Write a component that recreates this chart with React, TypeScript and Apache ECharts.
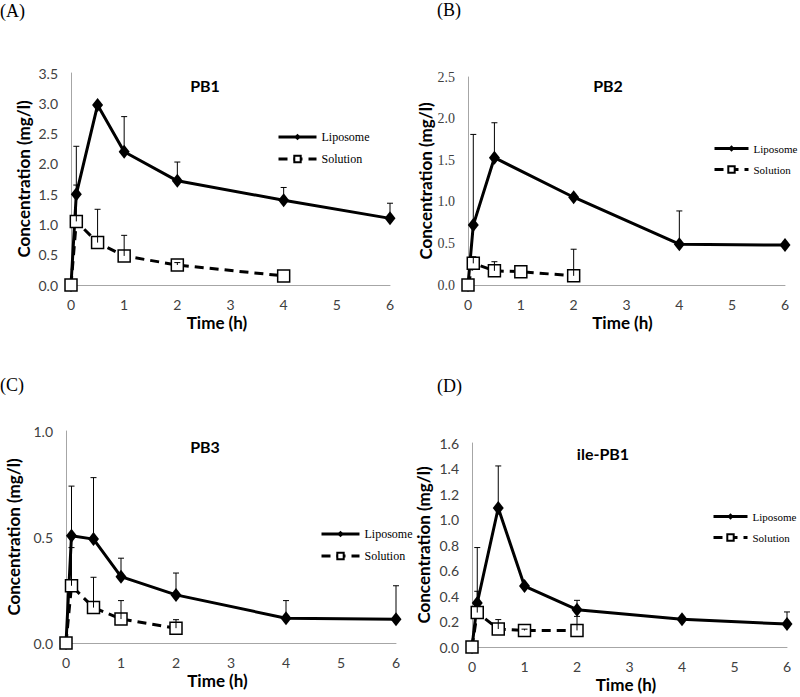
import React, { useEffect, useRef } from "react";
import * as echarts from "echarts";

// ---------- data ----------
const timeTicks = [0, 1, 2, 3, 4, 5, 6];

// Panel A: PB1
const lipoTimeA = [0, 0.1, 0.5, 1, 2, 4, 6];
const lipoA = [0, 1.5, 2.97, 2.2, 1.72, 1.4, 1.1];
const lipoSdA = [0, 0.79, 0, 0.58, 0.31, 0.21, 0.25];
const solTimeA = [0, 0.1, 0.5, 1, 2, 4];
const solA = [0, 1.05, 0.7, 0.48, 0.33, 0.15];
const solSdA = [0, 0.6, 0.55, 0.34, 0.04, 0];

// Panel B: PB2
const lipoTimeB = [0, 0.1, 0.5, 2, 4, 6];
const lipoB = [0, 0.72, 1.53, 1.055, 0.49, 0.48];
const lipoSdB = [0, 1.09, 0.42, 0, 0.4, 0];
const solTimeB = [0, 0.1, 0.5, 1, 2];
const solB = [0, 0.26, 0.17, 0.16, 0.11];
const solSdB = [0, 0.08, 0.11, 0, 0.32];

// Panel C: PB3
const lipoTimeC = [0, 0.1, 0.5, 1, 2, 4, 6];
const lipoC = [0, 0.506, 0.49, 0.313, 0.227, 0.117, 0.112];
const lipoSdC = [0, 0.234, 0.29, 0.087, 0.103, 0.083, 0.158];
const solTimeC = [0, 0.1, 0.5, 1, 2];
const solC = [0, 0.27, 0.167, 0.113, 0.07];
const solSdC = [0, 0.18, 0.143, 0.087, 0.04];

// Panel D: ile-PB1
const lipoTimeD = [0, 0.1, 0.5, 1, 2, 4, 6];
const lipoD = [0, 0.345, 1.09, 0.478, 0.293, 0.217, 0.18];
const lipoSdD = [0, 0.435, 0.33, 0, 0.073, 0, 0.095];
const solTimeD = [0, 0.1, 0.5, 1, 2];
const solD = [0, 0.27, 0.141, 0.13, 0.13];
const solSdD = [0, 0.167, 0.074, 0.01, 0.11];

const panelLabels = ["(A)", "(B)", "(C)", "(D)"];
const panelTitles = ["PB1", "PB2", "PB3", "ile-PB1"];
const yMaxes = [3.5, 2.5, 1.0, 1.6];
const yIntervals = [0.5, 0.5, 0.5, 0.2];
const seriesNames = ["Liposome", "Solution"];
const xTitle = "Time (h)";
const yTitle = "Concentration (mg/l)";

// ---------- layout (styles) ----------
const grids = [
  { left: 71, top: 73, width: 319, height: 212 },
  { left: 468, top: 77, width: 317, height: 208 },
  { left: 66, top: 431, width: 330, height: 212 },
  { left: 472, top: 443, width: 315, height: 204 },
];
const yNameGaps = [39, 32, 44, 40];
const xNamePads = [[0, 27, 0, 0], [0, 8, 0, 0], [0, 27, 0, 0], [0, 7, 0, 0]];
const yLabelFonts = ["Lato", "Liberation Serif", "Lato", "Lato"];
const legendPos = [
  { left: 277, top: 131, fontSize: 12, itemWidth: 38 },
  { left: 713, top: 143, fontSize: 11, itemWidth: 34 },
  { left: 320, top: 528, fontSize: 12, itemWidth: 38 },
  { left: 712, top: 511, fontSize: 11, itemWidth: 34 },
];
const titlePos = [
  [205, 85],
  [608, 85],
  [205, 446],
  [603, 453],
];
const labelPos = [
  [0, 11],
  [437, 10],
  [0, 385],
  [437, 386],
];

const panelData = [
  [lipoTimeA, lipoA, lipoSdA, solTimeA, solA, solSdA],
  [lipoTimeB, lipoB, lipoSdB, solTimeB, solB, solSdB],
  [lipoTimeC, lipoC, lipoSdC, solTimeC, solC, solSdC],
  [lipoTimeD, lipoD, lipoSdD, solTimeD, solD, solSdD],
];

function errorBarRender(params: any, api: any) {
  const x = api.value(0);
  const y = api.value(1);
  const top = api.value(2);
  const p0 = api.coord([x, y]);
  const p1 = api.coord([x, top]);
  return {
    type: "group",
    children: [
      {
        type: "line",
        shape: { x1: p0[0], y1: p0[1], x2: p1[0], y2: p1[1] },
        style: { stroke: "#000", lineWidth: 1 },
      },
      {
        type: "line",
        shape: { x1: p1[0] - 3, y1: p1[1], x2: p1[0] + 3, y2: p1[1] },
        style: { stroke: "#000", lineWidth: 1 },
      },
    ],
  };
}

function buildOption() {
  const xAxis: any[] = [];
  const yAxis: any[] = [];
  const series: any[] = [];
  const legend: any[] = [];
  const graphic: any[] = [];

  grids.forEach((g, i) => {
    xAxis.push({
      type: "value",
      gridIndex: i,
      min: 0,
      max: 6,
      interval: 1,
      splitLine: { show: false },
      axisTick: { show: false },
      axisLine: { show: true, onZero: false, lineStyle: { color: "#a6a6a6", width: 1 } },
      axisLabel: {
        margin: 12,
        color: "#404040",
        fontFamily: "Lato",
        fontSize: 14,
        formatter: (v: number) => (timeTicks.includes(v) ? String(v) : ""),
      },
      name: xTitle,
      nameLocation: "middle",
      nameGap: 29,
      nameTextStyle: {
        fontFamily: "Lato",
        fontWeight: "bold",
        fontSize: 17,
        color: "#000",
        padding: xNamePads[i],
      },
    });
    yAxis.push({
      type: "value",
      gridIndex: i,
      min: 0,
      max: yMaxes[i],
      interval: yIntervals[i],
      splitLine: { show: false },
      axisTick: { show: false },
      axisLine: { show: true, lineStyle: { color: "#a6a6a6", width: 1 } },
      axisLabel: {
        margin: 13,
        color: "#404040",
        fontFamily: yLabelFonts[i],
        fontSize: 14,
        formatter: (v: number) => v.toFixed(1),
      },
      name: yTitle,
      nameLocation: "middle",
      nameGap: yNameGaps[i],
      nameTextStyle: {
        fontFamily: "Lato",
        fontWeight: "bold",
        fontSize: 17,
        color: "#000",
      },
    });

    const [lt, lv, ls, st, sv, ss] = panelData[i];

    series.push({
      type: "line",
      name: seriesNames[0],
      xAxisIndex: i,
      yAxisIndex: i,
      data: lt.map((t: number, k: number) => [t, lv[k]]),
      symbol: "diamond",
      symbolSize: [11, 14],
      lineStyle: { color: "#000", width: 3 },
      itemStyle: { color: "#000" },
      z: 3,
    });
    series.push({
      type: "line",
      name: seriesNames[1],
      xAxisIndex: i,
      yAxisIndex: i,
      data: st.map((t: number, k: number) => [t, sv[k]]),
      symbol: "rect",
      symbolSize: 12,
      lineStyle: { color: "#000", width: 3, type: [9, 6] },
      itemStyle: { color: "#fff", borderColor: "#000", borderWidth: 1.5 },
      z: 4,
    });
    const errData: any[] = [];
    lt.forEach((t: number, k: number) => {
      if (ls[k] > 0) errData.push([t, lv[k], lv[k] + ls[k]]);
    });
    st.forEach((t: number, k: number) => {
      if (ss[k] > 0) errData.push([t, sv[k], sv[k] + ss[k]]);
    });
    series.push({
      type: "custom",
      name: "err" + i,
      xAxisIndex: i,
      yAxisIndex: i,
      data: errData,
      encode: { x: 0, y: [1, 2] },
      renderItem: errorBarRender,
      z: 5,
      silent: true,
    });

    legend.push({
      data: seriesNames,
      orient: "vertical",
      left: legendPos[i].left,
      top: legendPos[i].top,
      itemWidth: legendPos[i].itemWidth,
      itemHeight: 8,
      itemGap: 10,
      padding: 0,
      selectedMode: false,
      lineStyle: { width: 3 },
      textStyle: {
        fontFamily: "Liberation Serif",
        fontSize: legendPos[i].fontSize,
        color: "#000",
      },
    });

    graphic.push({
      type: "text",
      x: titlePos[i][0],
      y: titlePos[i][1],
      style: {
        text: panelTitles[i],
        font: "bold 16px Lato",
        fill: "#000",
        align: "center",
        verticalAlign: "middle",
      },
    });
    graphic.push({
      type: "text",
      x: labelPos[i][0],
      y: labelPos[i][1],
      style: {
        text: panelLabels[i],
        font: "18px 'Liberation Serif'",
        fill: "#000",
        align: "left",
        verticalAlign: "middle",
      },
    });
  });

  return {
    animation: false,
    backgroundColor: "#fff",
    grid: grids.map((g) => ({ ...g, containLabel: false })),
    xAxis,
    yAxis,
    series,
    legend,
    graphic,
  };
}

export default function App() {
  const ref = useRef<HTMLDivElement>(null);
  useEffect(() => {
    if (!ref.current) return;
    const chart = echarts.init(ref.current, undefined, { renderer: "svg" });
    chart.setOption(buildOption() as any);
    return () => chart.dispose();
  }, []);
  return (
    <div
      ref={ref}
      style={{ position: "absolute", left: 0, top: 0, width: 800, height: 697 }}
    />
  );
}
